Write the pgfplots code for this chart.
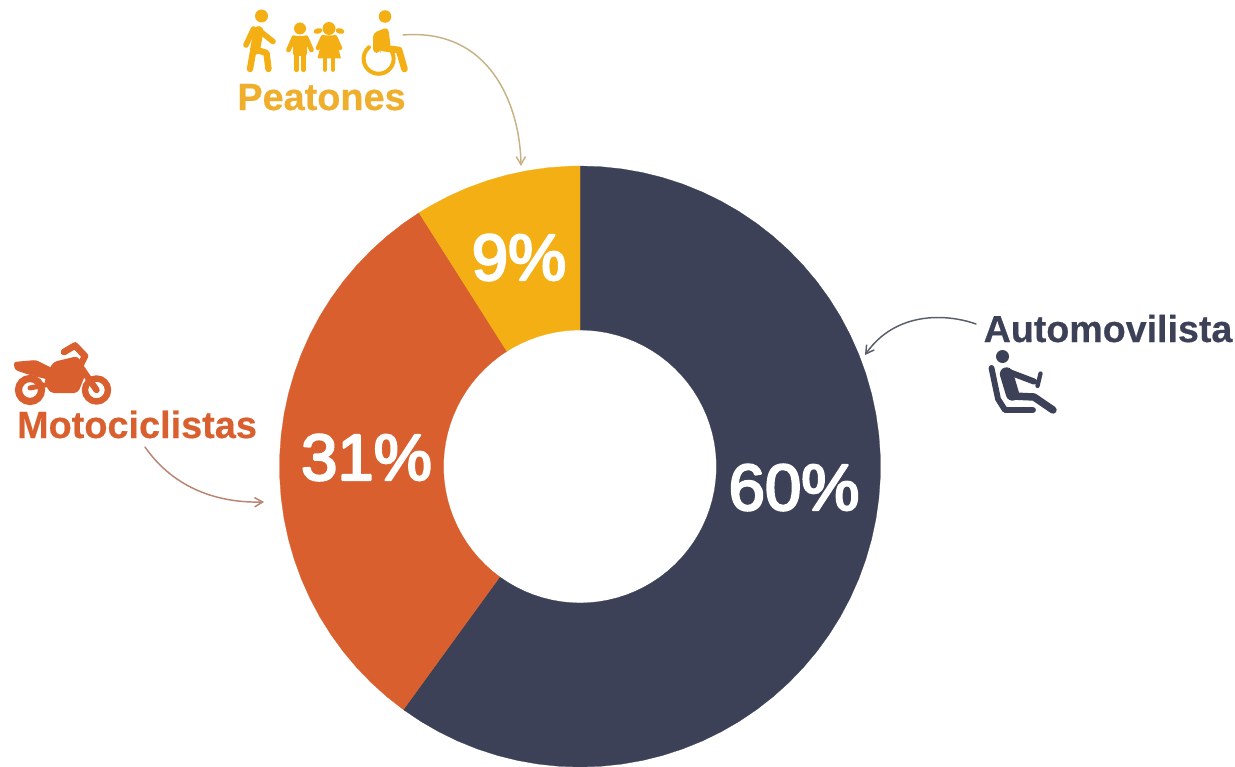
\documentclass[border=0pt]{standalone}
\usepackage{fontspec}
\setmainfont{Liberation Sans}
\newfontfamily\pct{Liberation Sans}[FakeBold=3.5]
\newfontfamily\etq{Liberation Sans Bold}[FakeBold=0.5]
\usepackage{pgfplots}
\pgfplotsset{compat=1.18}
\usetikzlibrary{arrows.meta}
\definecolor{navy}{HTML}{3C4157}
\definecolor{naranja}{HTML}{D9602E}
\definecolor{amarillo}{HTML}{F3AF14}
\definecolor{txtamarillo}{HTML}{EFAE2B}
\definecolor{flechaA}{HTML}{C6B286}
\definecolor{flechaB}{HTML}{5A5D6B}
\definecolor{flechaC}{HTML}{B98472}
\begin{document}
\begin{tikzpicture}
\useasboundingbox (0,0) rectangle (926.25pt,-575.25pt);
% 1 px of the reference = 0.75pt; shares 60, 31, 9 -> 216, 111.6, 32.4 degrees clockwise from the top
\begin{axis}[
    at={(0,0)}, anchor=north west,
    scale only axis, width=926.25pt, height=575.25pt,
    xmin=-580, xmax=655, ymin=-300.5, ymax=466.5,
    hide axis, clip=false,
]
\addplot[fill=navy, draw=navy, line width=0.2pt, data cs=polar] coordinates {
(90,300.5)(86,300.5)(82,300.5)(78,300.5)(74,300.5)(70,300.5)(66,300.5)(62,300.5)(58,300.5)(54,300.5)
(50,300.5)(46,300.5)(42,300.5)(38,300.5)(34,300.5)(30,300.5)(26,300.5)(22,300.5)(18,300.5)(14,300.5)
(10,300.5)(6,300.5)(2,300.5)(-2,300.5)(-6,300.5)(-10,300.5)(-14,300.5)(-18,300.5)(-22,300.5)(-26,300.5)
(-30,300.5)(-34,300.5)(-38,300.5)(-42,300.5)(-46,300.5)(-50,300.5)(-54,300.5)(-58,300.5)(-62,300.5)(-66,300.5)
(-70,300.5)(-74,300.5)(-78,300.5)(-82,300.5)(-86,300.5)(-90,300.5)(-94,300.5)(-98,300.5)(-102,300.5)(-106,300.5)
(-110,300.5)(-114,300.5)(-118,300.5)(-122,300.5)(-126,300.5)
(-126,136.5)(-122,136.5)(-118,136.5)(-114,136.5)(-110,136.5)(-106,136.5)(-102,136.5)(-98,136.5)(-94,136.5)(-90,136.5)
(-86,136.5)(-82,136.5)(-78,136.5)(-74,136.5)(-70,136.5)(-66,136.5)(-62,136.5)(-58,136.5)(-54,136.5)(-50,136.5)
(-46,136.5)(-42,136.5)(-38,136.5)(-34,136.5)(-30,136.5)(-26,136.5)(-22,136.5)(-18,136.5)(-14,136.5)(-10,136.5)
(-6,136.5)(-2,136.5)(2,136.5)(6,136.5)(10,136.5)(14,136.5)(18,136.5)(22,136.5)(26,136.5)(30,136.5)
(34,136.5)(38,136.5)(42,136.5)(46,136.5)(50,136.5)(54,136.5)(58,136.5)(62,136.5)(66,136.5)(70,136.5)
(74,136.5)(78,136.5)(82,136.5)(86,136.5)(90,136.5)
} -- cycle;
\addplot[fill=naranja, draw=naranja, line width=0.2pt, data cs=polar] coordinates {
(-126,300.5)(-130,300.5)(-134,300.5)(-138,300.5)(-142,300.5)(-146,300.5)(-150,300.5)(-154,300.5)(-158,300.5)(-162,300.5)
(-166,300.5)(-170,300.5)(-174,300.5)(-178,300.5)(-182,300.5)(-186,300.5)(-190,300.5)(-194,300.5)(-198,300.5)(-202,300.5)
(-206,300.5)(-210,300.5)(-214,300.5)(-218,300.5)(-222,300.5)(-226,300.5)(-230,300.5)(-234,300.5)(-237.6,300.5)
(-237.6,136.5)(-234,136.5)(-230,136.5)(-226,136.5)(-222,136.5)(-218,136.5)(-214,136.5)(-210,136.5)(-206,136.5)(-202,136.5)
(-198,136.5)(-194,136.5)(-190,136.5)(-186,136.5)(-182,136.5)(-178,136.5)(-174,136.5)(-170,136.5)(-166,136.5)(-162,136.5)
(-158,136.5)(-154,136.5)(-150,136.5)(-146,136.5)(-142,136.5)(-138,136.5)(-134,136.5)(-130,136.5)(-126,136.5)
} -- cycle;
\addplot[fill=amarillo, draw=amarillo, line width=0.2pt, data cs=polar] coordinates {
(-237.6,300.5)(-240,300.5)(-244,300.5)(-248,300.5)(-252,300.5)(-256,300.5)(-260,300.5)(-264,300.5)(-268,300.5)(-270,300.5)
(-270,136.5)(-268,136.5)(-264,136.5)(-260,136.5)(-256,136.5)(-252,136.5)(-248,136.5)(-244,136.5)(-240,136.5)(-237.6,136.5)
} -- cycle;
\end{axis}
\begin{scope}[x=0.75pt, y=-0.75pt, line cap=round, line join=round]
% percentages
\node[text=white, font=\fontsize{49}{49}\pct, anchor=base, inner sep=0pt] at (794,510) {60\%};
\node[text=white, font=\fontsize{49}{49}\pct, anchor=base, inner sep=0pt] at (366.5,480) {31\%};
\node[text=white, font=\fontsize{49}{49}\pct, anchor=base, inner sep=0pt] at (519,280) {9\%};
% category labels
\node[text=txtamarillo, font=\fontsize{28.4}{28}\etq, anchor=base, inner sep=0pt] at (321.5,110) {Peatones};
\node[text=naranja, font=\fontsize{28.4}{28}\etq, anchor=base, inner sep=0pt] at (137,438) {Motociclistas};
\node[text=navy, font=\fontsize{28.2}{28}\etq, anchor=base, inner sep=0pt] at (1108,342) {Automovilista};
% arrows
\draw[flechaA, line width=1.1pt, -{Straight Barb[length=6pt,width=7pt]}] (403,35) .. controls (490,28) and (520,105) .. (521,166);
\draw[flechaB, line width=1.1pt, -{Straight Barb[length=6pt,width=7pt]}] (976,324) .. controls (945,313) and (895,312) .. (865,355);
\draw[flechaC, line width=1.1pt, -{Straight Barb[length=6pt,width=7pt]}] (145,447) .. controls (175,490) and (220,503) .. (264,502);
% walker
\begin{scope}[amarillo, fill=amarillo]
\fill (261.5,16) circle[radius=6.5];
\draw[line width=7.5pt] (258.5,31) -- (255,50);
\draw[line width=4.2pt] (258.5,30) -- (273,41.5);
\draw[line width=4.2pt] (253.5,29) -- (246,45);
\draw[line width=4.8pt] (257,50) -- (266.5,53) -- (268.5,69);
\draw[line width=4.8pt] (253,52) -- (250,69);
% boy
\fill (300,28.5) circle[radius=6];
\fill[rounded corners=2pt] (293,36) rectangle (307,56);
\draw[line width=3.6pt] (294,37.5) -- (288.5,50);
\draw[line width=3.6pt] (306,37.5) -- (311.5,50);
\draw[line width=4pt] (296.5,55) -- (296.5,69.5);
\draw[line width=4pt] (303.5,55) -- (303.5,69.5);
% girl
\fill (329,28.5) circle[radius=6.5];
\fill[rotate around={15:(318,31)}] (318,31) ellipse[x radius=4.5, y radius=2.8];
\fill[rotate around={-15:(340,31)}] (340,31) ellipse[x radius=4.5, y radius=2.8];
\fill (323,35.5) -- (335,35.5) -- (341,58.5) -- (317.5,58.5) -- cycle;
\draw[line width=3.4pt] (323,37) -- (318,48);
\draw[line width=3.4pt] (335,37) -- (340,48);
\draw[line width=3.6pt] (325,58) -- (325,69.5);
\draw[line width=3.6pt] (333,58) -- (333,69.5);
% wheelchair
\fill (385,16.5) circle[radius=6.3];
\fill[rounded corners=3pt] (373,33) -- (388,27) -- (391,48) -- (381,49) -- (380,53) -- (373,53) -- cycle;
\draw[line width=3pt] (376,44) arc[start angle=-100, end angle=230, radius=15];
\draw[line width=5pt] (383,48) -- (399,50) -- (404.5,69);
\end{scope}
% motorcycle
\begin{scope}[naranja, fill=naranja]
\draw[line width=5.4pt] (30,390) circle[radius=11.5];
\draw[line width=4.8pt] (96.5,390) circle[radius=11.5];
\fill[rounded corners=3pt] (53,362) -- (78,356) -- (86,373) -- (78,393) -- (50,393) -- (44,381) -- cycle;
\fill[rounded corners=2pt] (13.5,362) -- (36,360) -- (56,370) -- (50,380) -- (30,375) -- (15,370) -- cycle;
\draw[line width=4.8pt] (80,366) -- (96.5,390);
\draw[line width=5pt] (64,352) -- (75,345.5) -- (85,356) -- (80,366);
\draw[line width=3.8pt] (30,388) -- (50,384);
\end{scope}
% seated driver
\begin{scope}[navy, fill=navy]
\fill (1002.5,356.5) circle[radius=6.5];
\draw[line width=4.4pt] (991.5,368) -- (998,399) -- (1005,410) -- (1033,410);
\draw[line width=10pt] (1006.5,374) -- (1012.5,394);
\draw[line width=5.6pt] (1012,396) -- (1034,397) -- (1053,410);
\draw[line width=4.6pt] (1009,372) -- (1034,381.5);
\draw[line width=3.2pt] (1040.5,373.5) -- (1037.5,386);
\end{scope}
\end{scope}
\end{tikzpicture}
\end{document}
